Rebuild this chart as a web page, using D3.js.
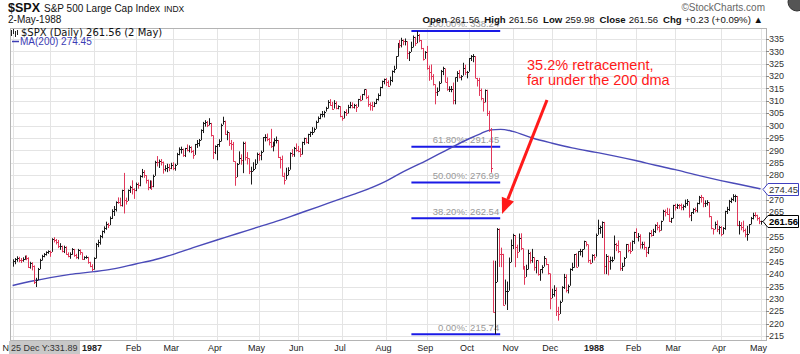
<!DOCTYPE html>
<html>
<head>
<meta charset="utf-8">
<script src="https://cdn.jsdelivr.net/npm/d3@7"></script>
<style>
html, body { margin: 0; padding: 0; background: #fff; }
svg { display: block; font-family: "Liberation Sans", Arial, sans-serif; }
</style>
</head>
<body>
<svg id="chart" width="800" height="354"></svg>
<script>
// data (daily bars Nov 1986 - May 1988)

const start_day = "1986-11-03";
const end_day = "1988-05-02";
const holidays = ["1986-11-27", "1986-12-25", "1987-01-01", "1987-02-16", "1987-04-17",
    "1987-05-25", "1987-07-03", "1987-09-07", "1987-11-26", "1987-12-25",
    "1988-01-01", "1988-02-15", "1988-04-01"];

const highs = [
    246.0, 246.5, 247.2, 247.0, 246.5, 246.8, 247.5, 247.6, 246.8, 245.0, 244.8, 243.5, 238.5, 242.5, 246.2, 247.8, 248.5, 249.2, 249.6,
    249.5, 254.5, 254.9, 254.2, 253.8, 252.5, 251.5, 251.5, 251.2, 248.8, 248.8, 250.5, 250.2, 248.2, 250.2, 250.0, 248.8, 247.2, 247.5, 247.0, 245.0, 244.0,
    246.8, 252.6, 253.9, 255.8, 257.6, 259.3, 261.2, 260.7, 263.3, 266.2, 267.5, 269.4, 271.0, 270.9, 274.1, 280.9, 270.9, 274.2, 275.7, 277.9, 274.7,
    277.0, 277.0, 280.0, 282.5, 282.0, 280.0, 278.2, 277.9, 277.8, 280.2, 285.8, 287.7, 286.3, 286.5, 285.5, 284.0, 284.6, 284.5, 285.0,
    285.2, 284.6, 289.0, 291.2, 291.5, 290.7, 291.0, 292.4, 292.0, 291.6, 290.2, 292.6, 294.2, 294.6, 298.5, 301.5, 302.2, 301.9, 303.0, 301.1, 296.1, 292.0,
    292.5, 294.5, 300.8, 303.6, 302.0, 298.0, 297.3, 294.2, 293.4, 285.6, 284.9, 289.6, 288.4, 293.5, 293.5, 289.3, 286.8, 283.4, 285.2, 286.4, 289.1,
    289.0, 289.9, 295.4, 296.5, 296.8, 295.0, 298.7, 293.5, 294.9, 295.6, 294.2, 287.4, 287.9, 281.0, 283.0, 283.2, 289.2, 290.5, 291.4, 292.8,
    291.8, 290.9, 293.5, 295.1, 295.1, 296.7, 297.6, 299.4, 299.2, 302.0, 303.7, 304.8, 305.9, 306.0, 307.6, 310.3, 310.7, 309.6, 310.3, 309.8, 308.2, 307.9,
    304.0, 305.9, 306.6, 308.4, 309.6, 309.4, 308.8, 308.7, 310.8, 312.1, 312.8, 314.6, 314.7, 312.2, 309.4, 309.6, 309.6, 310.9, 313.0, 315.7, 318.2, 319.0,
    319.2, 318.3, 319.8, 322.3, 324.2, 328.0, 333.4, 334.6, 335.5, 334.8, 335.2, 334.1, 330.0, 333.9, 336.4, 335.9, 338.2, 337.0, 334.6, 331.4, 330.1,
    332.2, 324.3, 324.7, 320.8, 316.7, 315.4, 317.9, 322.5, 323.8, 323.1, 319.5, 315.9, 316.0, 317.4, 319.5, 322.0, 322.5, 320.4, 325.4, 324.6, 322.1,
    327.3, 328.5, 328.9, 328.1, 319.3, 319.3, 315.0, 311.1, 314.6, 314.5, 306.0, 299.0, 245.5, 245.4, 258.6, 258.4, 250.7, 248.2, 237.8, 237.0, 246.7, 254.0,
    256.3, 255.8, 251.9, 256.4, 256.5, 250.4, 243.2, 243.8, 249.9, 249.0, 250.2, 246.8, 245.6, 245.6, 242.0, 243.6, 247.3, 246.4, 244.1, 240.3,
    234.1, 235.5, 234.6, 226.8, 229.3, 235.1, 240.1, 239.9, 235.8, 242.3, 244.6, 248.1, 248.4, 249.2, 250.2, 250.0, 253.5, 253.2, 252.0, 245.9, 248.0, 248.1,
    256.4, 262.0, 259.6, 261.3, 261.1, 248.1, 247.5, 247.1, 247.0, 255.6, 252.6, 253.6, 249.3, 244.6, 246.9, 252.2, 252.2, 252.9, 253.6, 257.1,
    258.5, 256.6, 256.1, 253.1, 253.1, 251.0, 251.0, 256.9, 257.8, 258.3, 260.1, 261.0, 259.9, 261.6, 266.0, 266.1, 266.8, 266.5, 262.8, 268.0,
    268.4, 268.4, 268.3, 268.5, 268.1, 270.1, 270.3, 269.4, 265.1, 266.6, 266.9, 268.9, 271.6, 272.0, 271.1, 269.8, 269.9, 269.1, 263.4, 258.5, 261.2, 261.7, 259.5,
    259.4, 259.0, 265.6, 267.2, 270.0, 270.9, 272.3, 272.1, 271.6, 261.5, 261.0, 261.6, 258.4, 259.5, 260.2, 263.1, 264.8, 265.0, 264.0, 263.1,
    261.6
];

const lows = [
    243.0, 244.0, 245.0, 244.8, 244.5, 245.0, 245.8, 245.6, 242.5, 242.2, 241.5, 236.0, 234.8, 237.5, 242.0, 245.5, 246.8, 247.5, 248.2,
    247.0, 249.0, 252.8, 252.0, 250.5, 249.8, 248.8, 248.5, 247.8, 246.8, 246.2, 247.8, 247.0, 246.2, 246.0, 247.8, 245.8, 245.8, 246.2, 244.2, 242.8, 241.2,
    241.8, 246.3, 250.9, 251.9, 254.5, 256.5, 257.9, 258.6, 259.8, 262.3, 263.5, 265.3, 268.4, 267.4, 267.3, 264.5, 268.1, 269.6, 272.8, 272.2, 270.4,
    273.5, 274.5, 275.5, 279.0, 278.9, 276.6, 273.9, 274.5, 274.0, 275.1, 279.7, 283.5, 282.9, 283.9, 280.6, 281.5, 281.2, 281.6, 282.4,
    282.0, 281.8, 284.1, 288.0, 288.7, 287.4, 287.3, 289.6, 289.2, 288.9, 286.6, 288.2, 291.0, 291.6, 294.1, 297.0, 299.6, 299.4, 300.1, 295.6, 286.5, 288.5,
    286.0, 291.4, 293.6, 300.4, 296.3, 294.1, 291.8, 290.2, 285.4, 275.7, 279.2, 284.4, 284.2, 280.8, 285.9, 284.3, 280.4, 276.2, 281.6, 282.5, 284.6,
    285.8, 286.0, 289.3, 293.6, 293.7, 292.0, 291.0, 289.6, 291.6, 292.8, 286.9, 282.7, 279.5, 276.2, 278.2, 279.9, 282.2, 287.4, 287.4, 289.5,
    289.2, 287.3, 288.3, 292.2, 292.8, 292.6, 295.4, 296.2, 297.3, 298.7, 301.2, 302.6, 303.4, 303.3, 305.7, 306.9, 308.0, 306.4, 306.9, 306.6, 306.6, 303.4,
    302.0, 302.9, 303.9, 304.9, 307.0, 307.0, 306.9, 305.5, 307.6, 309.8, 310.3, 312.2, 310.7, 307.6, 306.1, 306.0, 307.5, 308.7, 310.1, 311.9, 315.1, 316.7,
    316.0, 315.6, 316.2, 317.6, 321.3, 322.9, 327.9, 331.3, 331.6, 332.5, 332.4, 326.9, 326.1, 329.8, 331.6, 332.2, 333.3, 333.7, 330.8, 326.3, 327.0,
    322.6, 318.1, 318.5, 316.2, 308.6, 312.0, 313.9, 317.1, 320.4, 317.6, 314.1, 313.6, 313.5, 308.6, 308.6, 317.7, 319.1, 318.3, 320.2, 320.4, 319.1,
    321.8, 326.1, 325.6, 319.2, 315.8, 312.0, 310.2, 305.7, 309.4, 303.9, 297.5, 281.0, 224.5, 215.7, 236.8, 242.9, 242.8, 227.3, 227.7, 225.5, 233.3, 244.8,
    250.1, 242.8, 246.5, 249.0, 249.7, 241.8, 235.7, 238.9, 241.9, 244.3, 244.6, 241.4, 240.3, 239.4, 237.3, 240.3, 243.0, 243.6, 239.8, 225.8,
    230.3, 230.9, 223.1, 221.2, 223.9, 228.8, 234.0, 232.6, 232.2, 235.3, 241.3, 242.6, 242.8, 243.0, 247.5, 246.8, 250.0, 251.2, 244.6, 244.0, 244.6, 245.5,
    247.1, 255.9, 256.3, 254.6, 240.0, 240.0, 239.5, 241.8, 244.8, 245.9, 249.3, 248.5, 241.4, 241.3, 243.1, 246.5, 248.8, 248.2, 249.4, 252.2,
    254.6, 253.2, 250.3, 250.3, 249.8, 246.9, 248.1, 250.8, 255.1, 255.4, 256.6, 257.7, 256.9, 257.6, 261.6, 263.3, 263.9, 261.1, 260.7, 262.5,
    265.7, 266.3, 266.4, 265.8, 265.8, 266.8, 267.6, 262.8, 261.4, 264.3, 265.0, 264.9, 268.2, 268.9, 267.0, 267.1, 267.7, 262.9, 258.1, 256.0, 258.1, 257.0, 256.1,
    255.3, 256.1, 257.9, 264.3, 265.5, 268.7, 269.5, 269.1, 259.4, 256.0, 257.7, 256.9, 254.9, 253.5, 256.4, 260.1, 262.1, 262.9, 261.6, 260.2,
    260.0
];

const closes = [
    245.5, 246.0, 246.6, 245.9, 245.8, 246.1, 247.1, 246.6, 243.0, 244.5, 243.2, 236.8, 237.7, 242.1, 245.9, 247.5, 248.2, 248.8, 249.2,
    249.1, 254.0, 253.9, 253.0, 251.2, 251.2, 249.3, 251.0, 248.2, 247.4, 248.2, 250.0, 247.6, 246.8, 249.7, 248.8, 246.3, 246.8, 246.9, 244.7, 243.4, 242.2,
    246.5, 252.2, 252.8, 255.3, 257.3, 258.7, 260.3, 260.0, 262.6, 265.5, 266.3, 269.3, 269.0, 267.8, 273.9, 270.1, 269.6, 273.8, 275.4, 274.2, 274.1,
    276.5, 276.0, 279.6, 281.2, 280.0, 278.2, 275.1, 277.5, 275.6, 279.7, 285.5, 285.4, 285.6, 285.5, 282.4, 282.9, 283.4, 283.0, 284.2,
    283.0, 284.1, 288.6, 290.5, 290.7, 288.3, 290.9, 290.3, 291.2, 289.9, 288.2, 292.5, 292.8, 294.1, 298.2, 301.2, 301.6, 300.4, 300.9, 296.1, 289.2, 291.7,
    292.4, 293.6, 300.4, 302.0, 296.7, 297.3, 292.9, 292.5, 285.6, 279.2, 284.4, 286.9, 286.1, 293.1, 287.2, 286.8, 281.5, 281.8, 282.5, 284.6, 288.4,
    288.0, 289.4, 295.3, 295.5, 294.7, 293.4, 291.6, 293.3, 294.0, 294.2, 287.4, 286.7, 279.6, 278.2, 280.2, 282.2, 289.1, 288.7, 290.8, 290.1,
    289.8, 288.5, 293.5, 295.1, 293.5, 296.7, 297.3, 297.5, 298.7, 301.6, 303.1, 304.8, 304.8, 305.7, 307.0, 309.7, 308.4, 306.9, 309.0, 307.2, 307.9, 304.0,
    302.9, 305.6, 304.9, 307.4, 308.3, 307.5, 308.4, 307.6, 310.7, 310.4, 312.7, 314.6, 311.4, 308.6, 308.5, 307.8, 309.3, 310.7, 312.3, 315.7, 318.1, 318.7,
    317.6, 316.2, 318.5, 322.1, 323.0, 328.0, 333.3, 332.4, 334.7, 334.0, 334.1, 329.3, 329.8, 331.9, 335.9, 333.3, 336.8, 334.6, 331.4, 327.0, 329.8,
    323.4, 321.7, 320.2, 316.7, 313.6, 313.9, 317.1, 322.0, 323.1, 317.7, 314.9, 314.9, 314.9, 310.5, 319.5, 321.2, 319.7, 320.2, 323.2, 321.7, 321.8,
    327.3, 328.1, 328.1, 319.2, 318.5, 314.2, 311.1, 309.4, 314.5, 305.2, 298.1, 282.7, 224.8, 236.8, 258.4, 248.3, 248.2, 227.7, 233.2, 233.3, 244.8, 251.8,
    255.8, 250.8, 249.0, 254.5, 250.4, 243.2, 239.0, 241.9, 248.5, 245.6, 246.8, 243.0, 245.6, 240.1, 242.0, 243.0, 246.4, 244.1, 240.3, 230.3,
    232.0, 233.5, 225.2, 223.9, 228.8, 234.9, 238.9, 233.6, 235.3, 242.2, 242.8, 248.1, 243.0, 249.2, 249.5, 250.0, 253.2, 252.0, 245.6, 244.6, 247.9, 247.1,
    255.9, 258.6, 258.9, 261.1, 243.4, 247.5, 245.4, 245.8, 245.9, 252.1, 251.9, 249.3, 242.6, 243.1, 246.5, 252.2, 249.6, 249.4, 253.3, 257.1,
    255.0, 255.6, 252.2, 252.2, 251.0, 249.1, 250.8, 256.7, 256.0, 257.6, 259.8, 259.2, 257.9, 261.6, 265.6, 265.0, 264.4, 261.6, 262.5, 267.8,
    267.2, 268.0, 267.9, 267.3, 267.4, 268.7, 269.4, 263.8, 264.9, 266.4, 266.1, 268.7, 271.2, 271.1, 268.7, 268.8, 269.1, 263.4, 258.5, 258.1, 260.1, 258.1, 258.9,
    256.1, 258.5, 265.5, 266.2, 269.4, 270.2, 271.4, 271.6, 259.8, 259.8, 259.2, 257.9, 256.1, 256.4, 260.1, 262.5, 263.9, 263.8, 262.6, 261.3,
    261.56
];

// 200 day moving average, read at about two points per month
const ma_dates = ["1986-11-03", "1986-11-17", "1986-12-01", "1986-12-15", "1987-01-02", "1987-01-15",
    "1987-02-02", "1987-02-17", "1987-03-02", "1987-03-16", "1987-04-01", "1987-04-15",
    "1987-05-01", "1987-05-15", "1987-06-01", "1987-06-15", "1987-07-01", "1987-07-15",
    "1987-08-03", "1987-08-14", "1987-09-01", "1987-09-15", "1987-10-01", "1987-10-09",
    "1987-10-16", "1987-10-23", "1987-11-02", "1987-11-16", "1987-12-01", "1987-12-15",
    "1988-01-04", "1988-01-15", "1988-02-01", "1988-02-16", "1988-03-01", "1988-03-15",
    "1988-04-04", "1988-04-15", "1988-05-02"];
const ma_vals = [235.4, 237.2, 238.6, 239.9, 241.0, 242.0,
    244.1, 245.9, 248.0, 250.7, 253.8, 256.3,
    259.1, 261.6, 264.4, 267.2, 270.6, 273.1,
    277.5, 281.4, 286.1, 289.8, 294.7, 296.8,
    298.3, 298.5, 297.7, 295.0, 292.9, 291.0,
    289.2, 287.8, 285.9, 284.0, 282.2, 280.2,
    277.8, 276.3, 274.45];

const month_ticks = ["1986-11", "1986-12", "1987-01", "1987-02", "1987-03", "1987-04", "1987-05",
    "1987-06", "1987-07", "1987-08", "1987-09", "1987-10", "1987-11", "1987-12",
    "1988-01", "1988-02", "1988-03", "1988-04", "1988-05"];
// the Dec 1986 label sits under the readout box in the picture, so it is left blank
const month_labels = ["Nov", "", "1987", "Feb", "Mar", "Apr", "May", "Jun", "Jul", "Aug",
    "Sep", "Oct", "Nov", "Dec", "1988", "Feb", "Mar", "Apr", "May"];

// fibonacci retracement, Aug high to Oct low
const fib_labels = ["100.00%", "61.80%", "50.00%", "38.20%", "0.00%"];
const fib_vals = [338.24, 291.45, 276.99, 262.54, 215.74];
const fib_from = "1987-08-20";
const fib_to = "1987-10-22";

const y_ticks = d3.range(215, 336, 5);
const last_close = 261.56;
const last_ma = 274.45;


// setup
const plot = { left: 10, right: 766, top: 28, bottom: 340 };
const svg = d3.select("#chart");

const fmt = d3.timeFormat("%Y-%m-%d");
const parse = d3.timeParse("%Y-%m-%d");

const days = d3.timeDay.range(parse(start_day), d3.timeDay.offset(parse(end_day), 1))
    .filter(d => d.getDay() !== 0 && d.getDay() !== 6 && !holidays.includes(fmt(d)));
if (days.length !== closes.length) console.log("day count", days.length, closes.length);

const x = d3.scalePoint()
    .domain(days.map(fmt))
    .range([plot.left + 2.6, plot.right - 5.4]);
const y = d3.scaleLinear().domain([215, 335]).range([336, 39]);

// nearest trading day on or after a calendar date
function x_at(s) {
    const i = Math.min(days.length - 1, d3.bisectLeft(days, parse(s)));
    return x(fmt(days[i]));
}
const first_of_month = month_ticks.map(m => {
    const d = days.find(dd => fmt(dd).slice(0, 7) === m);
    return x(fmt(d));
});

// plot frame and grid
const grid = svg.append("g");
grid.selectAll("line.hg")
    .data(y_ticks)
    .join("line")
    .attr("x1", plot.left).attr("x2", plot.right)
    .attr("y1", d => Math.round(y(d)) + 0.5).attr("y2", d => Math.round(y(d)) + 0.5)
    .attr("stroke", "#e4e4e4");
grid.selectAll("line.vg")
    .data(first_of_month)
    .join("line")
    .attr("x1", d => Math.round(d) + 0.5).attr("x2", d => Math.round(d) + 0.5)
    .attr("y1", plot.top).attr("y2", plot.bottom)
    .attr("stroke", "#e4e4e4");

svg.append("rect")
    .attr("x", plot.left + 0.5).attr("y", plot.top + 0.5)
    .attr("width", plot.right - plot.left).attr("height", plot.bottom - plot.top)
    .attr("fill", "none").attr("stroke", "#b4b4b4");

// fibonacci lines
const fx0 = x_at(fib_from), fx1 = x_at(fib_to) + 1.5;
const fib = svg.append("g");
fib.selectAll("text")
    .data(fib_vals)
    .join("text")
    .attr("x", fx1 - 1).attr("y", d => y(d) - 3.5)
    .attr("text-anchor", "end")
    .attr("font-size", 9.5)
    .attr("fill", "#9a9a9a")
    .text((d, i) => fib_labels[i] + ": " + d.toFixed(2));
fib.selectAll("line")
    .data(fib_vals)
    .join("line")
    .attr("x1", fx0).attr("x2", fx1)
    .attr("y1", d => y(d)).attr("y2", d => y(d))
    .attr("stroke", "#1a1ae6").attr("stroke-width", 2);

// moving average
const ma_line = d3.line()
    .x((d, i) => x_at(ma_dates[i]))
    .y(d => y(d))
    .curve(d3.curveMonotoneX);
svg.append("path")
    .datum(ma_vals)
    .attr("d", ma_line)
    .attr("fill", "none")
    .attr("stroke", "#4a4ab8")
    .attr("stroke-width", 1.4);

// price bars (HLC), black up / red down
const bars = days.map((d, i) => ({
    key: fmt(d),
    hi: highs[i], lo: lows[i], cl: closes[i],
    up: i === 0 ? true : closes[i] >= closes[i - 1]
}));
svg.append("g")
    .selectAll("path")
    .data(bars)
    .join("path")
    .attr("d", b => {
        const bx = Math.round(x(b.key)) + 0.5;
        const y1 = y(b.hi), y2 = Math.max(y(b.lo), y1 + 1);
        const yc = Math.round(y(b.cl)) + 0.5;
        return `M${bx},${y1}V${y2}M${bx},${yc}H${bx + 1.5}`;
    })
    .attr("fill", "none")
    .attr("stroke", b => b.up ? "#1a1a1a" : "#e0385a")
    .attr("stroke-width", 1);

// legend inside plot
const leg = svg.append("g");
leg.append("path")
    .attr("d", "M11.5,30V36M13.5,29V34M15.5,31V37M17.5,30V35")
    .attr("stroke", "#222").attr("stroke-width", 1);
leg.append("text")
    .attr("x", 21).attr("y", 36)
    .attr("font-family", "'DejaVu Sans', sans-serif")
    .attr("font-size", 10)
    .attr("fill", "#111")
    .text("$SPX (Daily) " + last_close.toFixed(2) + " (2 May)");
leg.append("line")
    .attr("x1", 12).attr("x2", 19).attr("y1", 41.5).attr("y2", 41.5)
    .attr("stroke", "#3c3cb4").attr("stroke-width", 1.5);
leg.append("text")
    .attr("x", 20).attr("y", 45)
    .attr("font-size", 10)
    .attr("fill", "#3c3cb4")
    .text("MA(200) " + last_ma.toFixed(2));

// y axis on the right (labels under the value flags are covered in the picture)
const flag_vals = [last_ma, last_close];
const yax = svg.append("g");
yax.selectAll("line")
    .data(y_ticks)
    .join("line")
    .attr("x1", plot.right).attr("x2", plot.right + 3)
    .attr("y1", d => Math.round(y(d)) + 0.5).attr("y2", d => Math.round(y(d)) + 0.5)
    .attr("stroke", "#888");
yax.selectAll("text")
    .data(y_ticks.filter(t => flag_vals.every(v => Math.abs(y(t) - y(v)) > 7)))
    .join("text")
    .attr("x", plot.right + 3).attr("y", d => y(d) + 3.2)
    .attr("font-size", 9)
    .attr("fill", "#333")
    .text(d => d);

// value flags on the axis
function flag(v, stroke, bold) {
    const yy = Math.round(y(v)) + 0.5;
    svg.append("path")
        .attr("d", `M${plot.right - 3},${yy}L${plot.right + 2},${yy - 6}H798.5V${yy + 6}H${plot.right + 2}Z`)
        .attr("fill", "#fff").attr("stroke", stroke).attr("stroke-width", 1);
    svg.append("text")
        .attr("x", plot.right + 3).attr("y", yy + 3.3)
        .attr("font-size", 9.5)
        .attr("font-weight", bold ? "bold" : "normal")
        .attr("fill", bold ? "#000" : "#333")
        .text(v.toFixed(2));
}
flag(last_ma, "#4040c0", false);
flag(last_close, "#000", true);

// x axis labels
svg.append("g")
    .selectAll("text")
    .data(first_of_month)
    .join("text")
    .attr("x", d => d - 2).attr("y", 351)
    .attr("text-anchor", "middle")
    .attr("font-size", 9)
    .attr("font-weight", (d, i) => /^\d/.test(month_labels[i]) ? "bold" : "normal")
    .attr("fill", "#222")
    .text((d, i) => month_labels[i]);

// hover readout box at bottom left
svg.append("rect")
    .attr("x", 9).attr("y", 341).attr("width", 71).attr("height", 13)
    .attr("fill", "#c8c8c8");
svg.append("text")
    .attr("x", 11).attr("y", 351)
    .attr("font-size", 9)
    .attr("fill", "#333")
    .text("25 Dec Y:331.89");

// header
const head = svg.append("text").attr("x", 8).attr("y", 12).attr("fill", "#111");
head.append("tspan").attr("font-size", 12.5).attr("font-weight", "bold").text("$SPX");
head.append("tspan").attr("font-size", 10).attr("dx", 4).text("S&P 500 Large Cap Index");
head.append("tspan").attr("font-size", 8.5).attr("dx", 4).text("INDX");

svg.append("text")
    .attr("x", 8).attr("y", 23)
    .attr("font-size", 10)
    .attr("fill", "#111")
    .text("2-May-1988");

svg.append("text")
    .attr("x", 765).attr("y", 11)
    .attr("text-anchor", "end")
    .attr("font-size", 10)
    .attr("fill", "#666")
    .text("\u00a9StockCharts.com");

const quote = svg.append("text")
    .attr("x", 763).attr("y", 23)
    .attr("text-anchor", "end")
    .attr("font-size", 9.6)
    .attr("fill", "#111");
[["Open", "261.56"], ["High", "261.56"], ["Low", "259.98"], ["Close", "261.56"], ["Chg", "+0.23 (+0.09%) \u25b2"]]
    .forEach(([k, v], i) => {
        quote.append("tspan").attr("font-weight", "bold").attr("dx", i ? 5 : 0).text(k);
        quote.append("tspan").attr("dx", 3).text(v);
    });

// corner icon
svg.append("circle")
    .attr("cx", 797).attr("cy", 2).attr("r", 9)
    .attr("fill", "#555").attr("stroke", "#333");

// annotation
const note = svg.append("text")
    .attr("fill", "#ff1a1a")
    .attr("font-size", 14.5);
note.append("tspan").attr("x", 527).attr("y", 70).text("35.2% retracement,");
note.append("tspan").attr("x", 527).attr("y", 85).text("far under the 200 dma");

const tail = [547, 100], tip = [502, 214];
const ux = (tip[0] - tail[0]), uy = (tip[1] - tail[1]);
const len = Math.hypot(ux, uy);
const u = [ux / len, uy / len];
const base = [tip[0] - 16 * u[0], tip[1] - 16 * u[1]];
svg.append("line")
    .attr("x1", tail[0]).attr("y1", tail[1])
    .attr("x2", base[0]).attr("y2", base[1])
    .attr("stroke", "#ff1a1a").attr("stroke-width", 3);
svg.append("path")
    .attr("d", d3.line()([
        tip,
        [base[0] - 6.5 * u[1], base[1] + 6.5 * u[0]],
        [base[0] + 6.5 * u[1], base[1] - 6.5 * u[0]]
    ]) + "Z")
    .attr("fill", "#ff1a1a");
</script>
</body>
</html>
